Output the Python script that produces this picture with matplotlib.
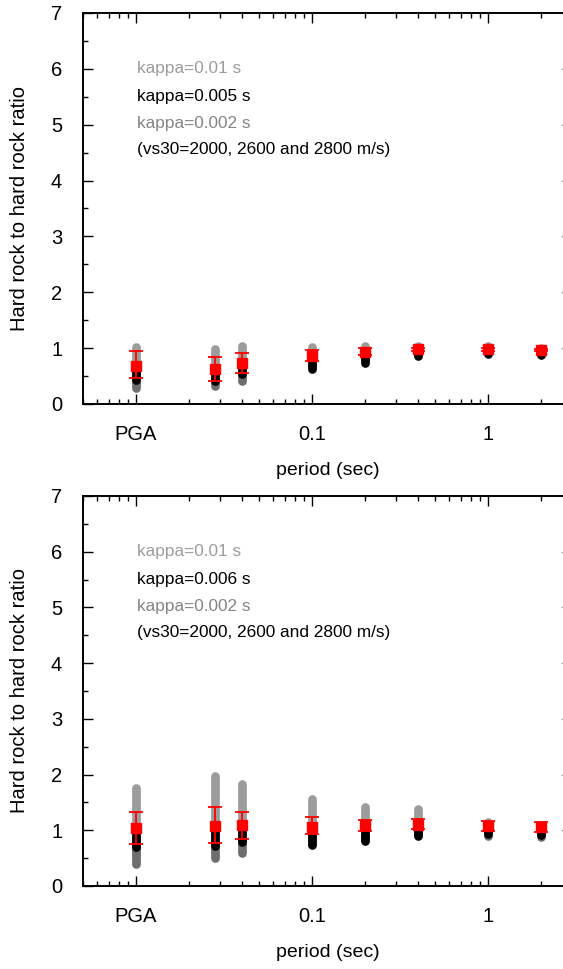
import numpy as np
import matplotlib
matplotlib.use("Agg")
import matplotlib.pyplot as plt
from matplotlib.ticker import FixedLocator, FixedFormatter, LogLocator, MultipleLocator, NullFormatter

plt.rcParams["font.family"] = ["Liberation Sans", "DejaVu Sans"]

# periods (PGA drawn at 0.01 s)
periods = [0.01, 0.028, 0.04, 0.1, 0.2, 0.4, 1.0, 2.0]
xtick_pos = [0.01, 0.1, 1]
xtick_labels = ["PGA", "0.1", "1"]

# ---- upper panel (kappa 0.01 / 0.005 / 0.002) : spread of ratios per period
top_k1_lo = [0.40, 0.40, 0.50, 0.80, 0.88, 0.92, 0.95, 0.93]
top_k1_hi = [1.02, 0.98, 1.04, 1.02, 1.03, 1.03, 1.03, 1.00]
top_k2_lo = [0.43, 0.42, 0.53, 0.63, 0.74, 0.85, 0.89, 0.88]
top_k2_hi = [0.66, 0.62, 0.72, 0.85, 0.92, 0.95, 0.95, 0.94]
top_k3_lo = [0.29, 0.32, 0.41, 0.70, 0.78, 0.88, 0.91, 0.90]
top_k3_hi = [0.40, 0.42, 0.52, 0.85, 0.95, 0.98, 0.98, 0.97]
top_mean = [0.68, 0.63, 0.73, 0.86, 0.93, 0.98, 0.98, 0.97]
top_up = [0.94, 0.84, 0.92, 0.97, 1.00, 1.01, 1.00, 0.99]
top_dn = [0.46, 0.42, 0.55, 0.77, 0.88, 0.94, 0.95, 0.95]

# ---- lower panel (kappa 0.01 / 0.006 / 0.002)
bot_k1_lo = [0.60, 0.70, 0.75, 0.85, 0.90, 0.95, 0.95, 0.95]
bot_k1_hi = [1.76, 1.98, 1.83, 1.56, 1.42, 1.38, 1.14, 1.06]
bot_k2_lo = [0.70, 0.72, 0.78, 0.73, 0.81, 0.90, 0.93, 0.92]
bot_k2_hi = [1.00, 1.05, 1.05, 0.95, 0.95, 0.98, 1.00, 1.00]
bot_k3_lo = [0.39, 0.51, 0.60, 0.76, 0.84, 0.92, 0.90, 0.88]
bot_k3_hi = [0.70, 0.80, 0.85, 1.00, 1.00, 1.05, 1.05, 1.02]
bot_mean = [1.04, 1.08, 1.09, 1.06, 1.09, 1.10, 1.07, 1.06]
bot_up = [1.33, 1.41, 1.33, 1.23, 1.18, 1.21, 1.17, 1.15]
bot_dn = [0.75, 0.77, 0.84, 0.93, 0.99, 1.03, 0.99, 0.97]

c_light = "#9c9c9c"
c_dark = "#6e6e6e"
c_text3 = "#858585"


def draw_panel(ax, k1, k2, k3, mean, up, dn, mid_kappa):
    # spread of the individual ratios, one column per kappa
    for (lo, hi), col in [(k1, c_light), (k3, c_dark), (k2, "black")]:
        for p, a, b in zip(periods, lo, hi):
            ax.plot([p, p], [a, b], color=col, lw=6.3, solid_capstyle="round", zorder=2)
    m = np.array(mean)
    yerr = [m - np.array(dn), np.array(up) - m]
    ax.errorbar(periods, mean, yerr=yerr, fmt="s", color="red", ms=7, mec="red",
                elinewidth=1.3, capsize=4.8, capthick=1.3, zorder=4)

    ax.set_xscale("log")
    ax.set_xlim(0.005, 3)
    ax.set_ylim(0, 7)
    ax.xaxis.set_major_locator(FixedLocator(xtick_pos))
    ax.xaxis.set_major_formatter(FixedFormatter(xtick_labels))
    ax.xaxis.set_minor_locator(LogLocator(base=10, subs=np.arange(2, 10)))
    ax.xaxis.set_minor_formatter(NullFormatter())
    ax.yaxis.set_major_locator(MultipleLocator(1))
    ax.yaxis.set_minor_locator(MultipleLocator(0.5))
    ax.tick_params(which="both", direction="in", top=True, right=True, labelsize=14.5, width=1)
    ax.tick_params(which="major", length=7, pad=15)
    ax.tick_params(which="minor", length=3.5)
    for s in ax.spines.values():
        s.set_linewidth(1.4)

    ax.set_xlabel("period (sec)", fontsize=14)
    ax.set_ylabel("Hard rock to hard rock ratio", fontsize=14.5)
    ax.xaxis.set_label_coords(0.5, -0.148)
    ax.yaxis.set_label_coords(-0.11, 0.5)

    ax.text(0.0102, 6.0, "kappa=0.01 s", color=c_light, fontsize=12.4, va="center")
    ax.text(0.0102, 5.5, mid_kappa, color="black", fontsize=12.4, va="center")
    ax.text(0.0102, 5.02, "kappa=0.002 s", color=c_text3, fontsize=12.4, va="center")
    ax.text(0.0102, 4.55, "(vs30=2000, 2600 and 2800 m/s)", color="black", fontsize=12.4, va="center")


fig = plt.figure(figsize=(5.63, 9.69), dpi=100)
ax1 = fig.add_axes([0.1474, 0.5831, 0.8686, 0.4035])
ax2 = fig.add_axes([0.1474, 0.0857, 0.8686, 0.4025])

draw_panel(ax1, (top_k1_lo, top_k1_hi), (top_k2_lo, top_k2_hi), (top_k3_lo, top_k3_hi),
           top_mean, top_up, top_dn, "kappa=0.005 s")
draw_panel(ax2, (bot_k1_lo, bot_k1_hi), (bot_k2_lo, bot_k2_hi), (bot_k3_lo, bot_k3_hi),
           bot_mean, bot_up, bot_dn, "kappa=0.006 s")

fig.savefig("out.png", dpi=100)
